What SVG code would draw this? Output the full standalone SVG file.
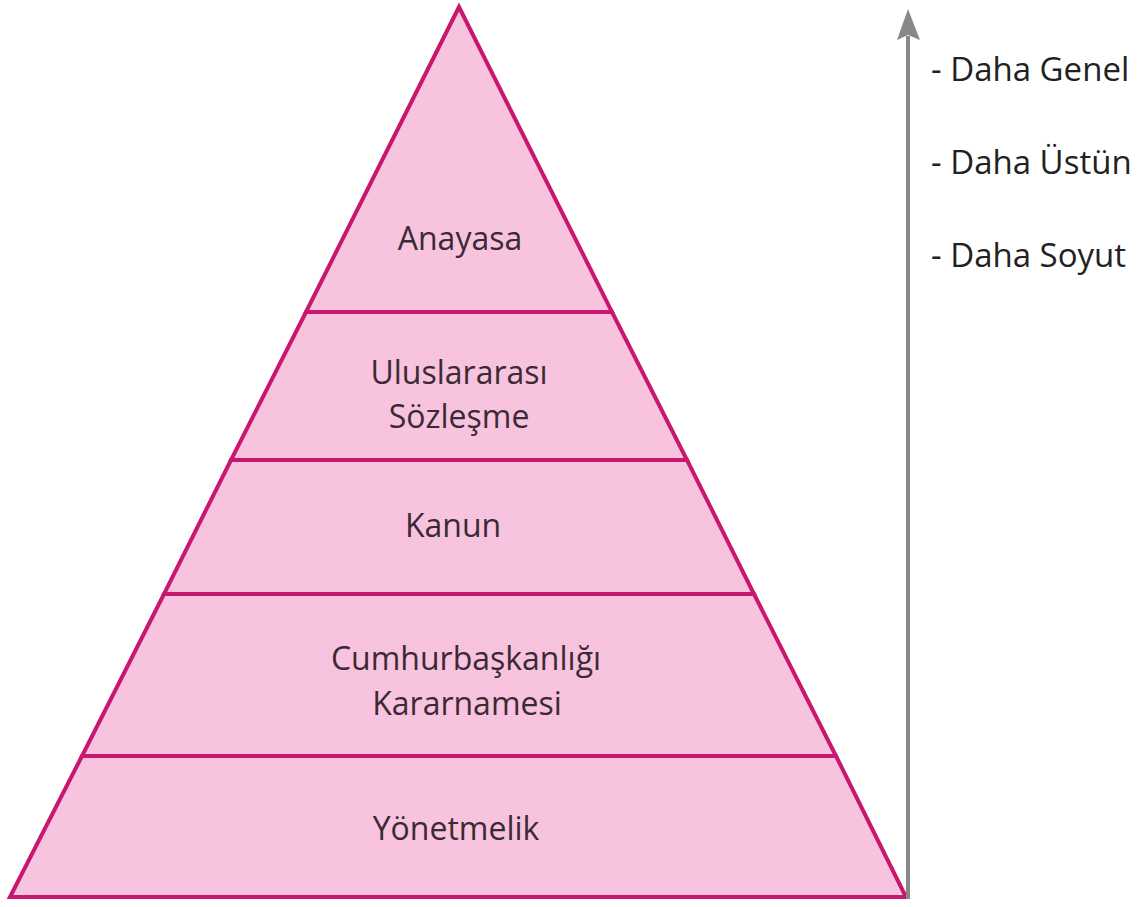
<svg xmlns="http://www.w3.org/2000/svg" width="1142" height="907" viewBox="0 0 1142 907">
<style>
.tier{fill:#f7c3de;stroke:#c8176f;stroke-width:4;stroke-linejoin:miter}
.lbl{font-family:"Open Sans","Noto Sans",sans-serif;font-size:32px;fill:#3b2a33;text-anchor:middle}
.side{font-family:"Open Sans","Noto Sans",sans-serif;font-size:33px;fill:#222}
</style>
<rect width="1142" height="907" fill="#fff"/>
<g id="anayasa"><polygon class="tier" points="459,7 306,312 612,312"/><text class="lbl" x="460" y="250">Anayasa</text></g>
<g id="uluslararasi"><polygon class="tier" points="306,312 612,312 687,460 231,460"/><text class="lbl" x="459" y="384">Uluslararası</text><text class="lbl" x="459" y="428">Sözleşme</text></g>
<g id="kanun"><polygon class="tier" points="231,460 687,460 754,594 164,594"/><text class="lbl" x="453" y="537">Kanun</text></g>
<g id="cumhurbaskanligi"><polygon class="tier" points="164,594 754,594 836,756 82,756"/><text class="lbl" x="466" y="670">Cumhurbaşkanlığı</text><text class="lbl" x="467" y="715">Kararnamesi</text></g>
<g id="yonetmelik"><polygon class="tier" points="82,756 836,756 906,897 10,897"/><text class="lbl" x="456" y="840">Yönetmelik</text></g>
<g id="connectors">
<line x1="908" y1="899" x2="908" y2="36" stroke="#888" stroke-width="4"/>
<polygon points="908,9 897,40 908,35 920,40" fill="#888"/>
</g>
<g id="labels">
<text class="side" x="931" y="81">- Daha Genel</text>
<text class="side" x="931" y="174">- Daha Üstün</text>
<text class="side" x="931" y="267">- Daha Soyut</text>
</g>
</svg>
